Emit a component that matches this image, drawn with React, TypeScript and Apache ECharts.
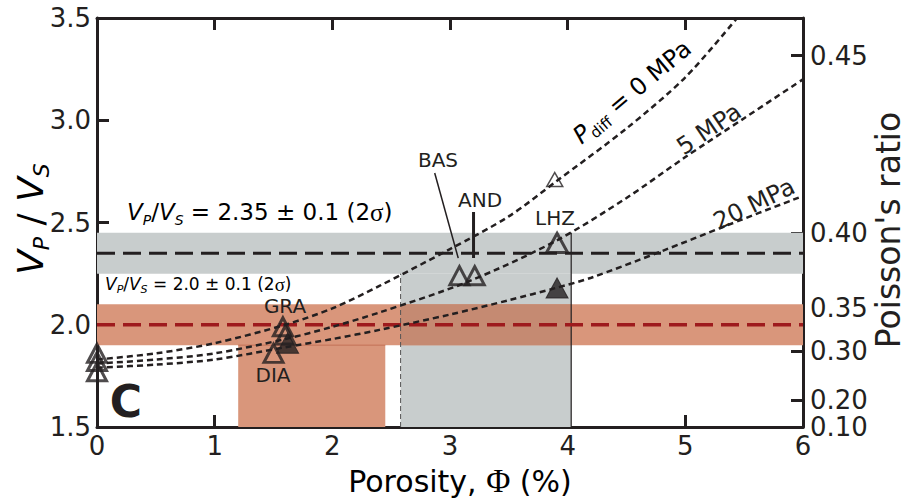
import React, { useEffect, useRef } from "react";
import * as echarts from "echarts";

// ---------- data ----------
const xTickValues = [0, 1, 2, 3, 4, 5, 6];
const vpvsTickValues = [1.5, 2.0, 2.5, 3.0, 3.5];
const poissonTickLabels = [0.1, 0.2, 0.3, 0.35, 0.4, 0.45];

// Pdiff = 0 MPa
const curve0x = [0, 0.5, 1.0, 1.6, 2.0, 2.4, 3.0, 3.5, 3.9, 4.5, 5.0, 5.44];
const curve0y = [1.83, 1.86, 1.91, 2.0, 2.08, 2.19, 2.37, 2.53, 2.7, 2.96, 3.21, 3.5];
// 5 MPa
const curve5x = [0, 0.5, 1.0, 1.6, 2.0, 2.4, 3.15, 3.9, 4.5, 5.0, 5.5, 6.0];
const curve5y = [1.81, 1.83, 1.86, 1.93, 1.99, 2.06, 2.21, 2.41, 2.62, 2.82, 3.01, 3.2];
// 20 MPa
const curve20x = [0, 0.5, 1.0, 1.6, 2.0, 2.4, 3.0, 3.5, 3.9, 4.2, 4.8, 5.35, 6.0];
const curve20y = [1.79, 1.805, 1.83, 1.89, 1.93, 1.975, 2.05, 2.12, 2.18, 2.23, 2.36, 2.485, 2.63];

const openTriangles = [
  [0, 1.86], [0, 1.82], [0, 1.77],
  [1.58, 1.99], [1.6, 1.95], [1.5, 1.86],
  [3.08, 2.24], [3.21, 2.24],
];
const lhzOpen = [[3.91, 2.4]];
const filledTriangles = [[1.62, 1.91], [3.91, 2.18]];
const dryTriangle = [[3.89, 2.71]];

const globalVpVs = 2.35;
const globalErr = 0.1;
const localVpVs = 2.0;
const localErr = 0.1;
const grayPorosity = [2.58, 4.03];
const orangePorosity = [1.2, 2.45];

const basLeader = [[2.87, 2.742], [3.07, 2.326]];
const andLeader = [[3.2, 2.551], [3.2, 2.326]];

// ---------- styles ----------
const FONT = "'DejaVu Sans', sans-serif";
const SERIF = "'Liberation Serif', serif";
const INK = "#231f20";
const GRAY = "#c8cdcd";
const ORANGE = "#d9967b";
const OVERLAP = "#c58a72";
const RED_LINE = "#9e1a1d";
const RED_TEXT = "#d44d2c";

const zip = (xs: number[], ys: number[]) => xs.map((x, i) => [x, ys[i]]);
const poissonToVpVs = (nu: number) => Math.sqrt((2 - 2 * nu) / (1 - 2 * nu));
const vpvsToPoisson = (r: number) => (r * r - 2) / (2 * (r * r - 1));
const rightTickValues = poissonTickLabels.map(poissonToVpVs);

function richStyles(F: number, color: string) {
  const f = Math.round(F * 0.62);
  const k = Math.round(1.026 * F - 0.846 * f);
  return {
    v: { fontFamily: FONT, fontStyle: "italic", fontSize: F, lineHeight: F, height: F, verticalAlign: "top", color },
    s: { fontFamily: FONT, fontStyle: "italic", fontSize: f, lineHeight: f, height: f, verticalAlign: "top", padding: [k, 0, 0, 0], color },
    u: { fontFamily: FONT, fontSize: f, lineHeight: f, height: f, verticalAlign: "top", padding: [k, 0, 0, 0], color },
    t: { fontFamily: FONT, fontSize: F, lineHeight: F, height: F, verticalAlign: "top", color },
    g: { fontFamily: SERIF, fontSize: Math.round(F * 1.1), lineHeight: F, height: F, verticalAlign: "top", color },
  };
}

function label(x: number, y: number, text: string, size = 20) {
  return {
    type: "text",
    x,
    y,
    z: 100,
    silent: true,
    style: { text, fontFamily: FONT, fontSize: size, lineHeight: size, fill: INK, align: "center", verticalAlign: "middle" },
  };
}

export default function App() {
  const ref = useRef<HTMLDivElement>(null);

  useEffect(() => {
    document.body.style.margin = "0";
    if (!ref.current) return;
    const chart = echarts.init(ref.current, null, { renderer: "svg" });

    const axisCommon = {
      type: "value",
      axisLine: { show: true, onZero: false, lineStyle: { color: INK, width: 3 } },
      axisTick: { show: true, inside: true, length: 12, lineStyle: { color: INK, width: 3 } },
      splitLine: { show: false },
    };

    const dashedCurve = (name: string, data: number[][]) => ({
      name,
      type: "line",
      data,
      smooth: 0.3,
      symbol: "none",
      silent: true,
      z: 5,
      lineStyle: { color: INK, width: 2.5, type: [6, 4] },
    });

    const straight = (data: number[][], color: string, width: number, type: any, z = 3) => ({
      type: "line",
      data,
      symbol: "none",
      silent: true,
      z,
      lineStyle: { color, width, type },
    });

    const option: any = {
      animation: false,
      grid: { left: 97, top: 18, right: 104, bottom: 73, containLabel: false },
      xAxis: [
        {
          ...axisCommon,
          min: 0,
          max: 6,
          interval: 1,
          position: "bottom",
          axisLabel: {
            show: true,
            margin: 7,
            fontSize: 26,
            lineHeight: 24,
            fontFamily: FONT,
            color: INK,
            formatter: (v: number) => (xTickValues.includes(v) ? String(v) : ""),
          },
        },
        { ...axisCommon, min: 0, max: 6, interval: 1, position: "top", axisLabel: { show: false } },
      ],
      yAxis: [
        {
          ...axisCommon,
          min: 1.5,
          max: 3.5,
          interval: 0.5,
          position: "left",
          axisLabel: {
            show: true,
            margin: 6,
            fontSize: 26,
            lineHeight: 24,
            fontFamily: FONT,
            color: INK,
            showMinLabel: true,
            showMaxLabel: true,
            formatter: (v: number) => (vpvsTickValues.some((t) => Math.abs(t - v) < 1e-6) ? v.toFixed(1) : ""),
          },
        },
        {
          ...axisCommon,
          min: 1.5,
          max: 3.5,
          position: "right",
          axisTick: { show: true, inside: true, length: 12, lineStyle: { color: INK, width: 3 }, customValues: rightTickValues },
          axisLabel: {
            show: true,
            margin: 7,
            fontSize: 26,
            lineHeight: 22,
            fontFamily: FONT,
            color: INK,
            customValues: rightTickValues,
            formatter: (v: number) => vpvsToPoisson(v).toFixed(2),
          },
        },
      ],
      series: [
        {
          type: "line",
          data: [],
          silent: true,
          z: 1,
          markArea: {
            silent: true,
            data: [
              [{ xAxis: 0, yAxis: globalVpVs - globalErr, itemStyle: { color: GRAY } }, { xAxis: 6, yAxis: globalVpVs + globalErr }],
              [{ xAxis: grayPorosity[0], yAxis: 1.5, itemStyle: { color: GRAY } }, { xAxis: grayPorosity[1], yAxis: globalVpVs - globalErr }],
              [{ xAxis: 0, yAxis: localVpVs - localErr, itemStyle: { color: ORANGE } }, { xAxis: 6, yAxis: localVpVs + localErr }],
              [{ xAxis: orangePorosity[0], yAxis: 1.5, itemStyle: { color: ORANGE } }, { xAxis: orangePorosity[1], yAxis: localVpVs - localErr }],
              [{ xAxis: grayPorosity[0], yAxis: localVpVs - localErr, itemStyle: { color: OVERLAP } }, { xAxis: grayPorosity[1], yAxis: localVpVs + localErr }],
            ],
          },
        },
        straight([[orangePorosity[0], localVpVs - localErr], [orangePorosity[1], localVpVs - localErr]], "#c06b4e", 1, "solid", 2),
        straight([[grayPorosity[0], 1.5], [grayPorosity[0], globalVpVs - globalErr]], "#555", 1, [5, 3], 2),
        straight([[grayPorosity[1], 1.5], [grayPorosity[1], globalVpVs + globalErr]], INK, 1.2, "solid", 2),
        straight([[0, globalVpVs], [6, globalVpVs]], INK, 3, [18, 8], 3),
        straight([[0, localVpVs], [6, localVpVs]], RED_LINE, 3.5, [18, 8], 3),
        dashedCurve("0 MPa", zip(curve0x, curve0y)),
        dashedCurve("5 MPa", zip(curve5x, curve5y)),
        dashedCurve("20 MPa", zip(curve20x, curve20y)),
        straight(basLeader, INK, 1.5, "solid", 6),
        straight(andLeader, INK, 3, "solid", 6),
        {
          type: "scatter",
          data: openTriangles,
          symbol: "triangle",
          symbolSize: [19, 18],
          clip: false,
          silent: true,
          z: 8,
          itemStyle: { color: "rgba(0,0,0,0)", borderColor: INK, borderWidth: 3 },
        },
        {
          type: "scatter",
          data: lhzOpen,
          symbol: "triangle",
          symbolSize: [21, 19],
          clip: false,
          silent: true,
          z: 8,
          itemStyle: { color: "rgba(0,0,0,0)", borderColor: INK, borderWidth: 3 },
        },
        {
          type: "scatter",
          data: filledTriangles,
          symbol: "triangle",
          symbolSize: [22, 20],
          clip: false,
          silent: true,
          z: 8,
          itemStyle: { color: INK, borderColor: INK, borderWidth: 1 },
        },
        {
          type: "scatter",
          data: dryTriangle,
          symbol: "triangle",
          symbolSize: [16, 14],
          clip: false,
          silent: true,
          z: 8,
          itemStyle: { color: "rgba(0,0,0,0)", borderColor: INK, borderWidth: 1.5 },
        },
      ],
      graphic: [
        {
          type: "text",
          x: 30,
          y: 219,
          z: 100,
          rotation: Math.PI / 2,
          silent: true,
          style: { text: "{v|V}{s|P}{t| / }{v|V}{s|S}", rich: richStyles(36, INK), align: "center", verticalAlign: "middle" },
        },
        {
          type: "text",
          x: 888,
          y: 230,
          z: 100,
          rotation: Math.PI / 2,
          silent: true,
          style: { text: "Poisson's ratio", fontFamily: FONT, fontSize: 33, fill: INK, align: "center", verticalAlign: "middle" },
        },
        {
          type: "text",
          x: 460,
          y: 481,
          z: 100,
          silent: true,
          style: { text: "{t|Porosity, }{g|Φ}{t| (%)}", rich: richStyles(30, INK), align: "center", verticalAlign: "middle" },
        },
        {
          type: "text",
          x: 127,
          y: 212,
          z: 100,
          silent: true,
          style: { text: "{v|V}{s|P}{t|/}{v|V}{s|S}{t| = 2.35 ± 0.1 (2}{g|σ}{t|)}", rich: richStyles(23, INK), align: "left", verticalAlign: "middle" },
        },
        {
          type: "text",
          x: 105,
          y: 284,
          z: 100,
          silent: true,
          style: { text: "{v|V}{s|P}{t|/}{v|V}{s|S}{t| = 2.0 ± 0.1 (2}{g|σ}{t|)}", rich: richStyles(17, RED_TEXT), align: "left", verticalAlign: "middle" },
        },
        {
          type: "text",
          x: 126,
          y: 401,
          z: 100,
          silent: true,
          style: { text: "C", fontFamily: FONT, fontSize: 44, fontWeight: "bold", fill: INK, align: "center", verticalAlign: "middle" },
        },
        label(285, 306, "GRA"),
        label(273, 375, "DIA"),
        label(438, 160, "BAS"),
        label(480, 200, "AND"),
        label(555, 218, "LHZ"),
        {
          type: "text",
          x: 632,
          y: 92,
          z: 100,
          rotation: (40 * Math.PI) / 180,
          silent: true,
          style: { text: "{v|P}{u|diff}{t| = 0 MPa}", rich: richStyles(24, INK), align: "center", verticalAlign: "middle" },
        },
        {
          type: "text",
          x: 709,
          y: 129,
          z: 100,
          rotation: (34 * Math.PI) / 180,
          silent: true,
          style: { text: "5 MPa", fontFamily: FONT, fontSize: 24, fill: INK, align: "center", verticalAlign: "middle" },
        },
        {
          type: "text",
          x: 754,
          y: 204,
          z: 100,
          rotation: (26 * Math.PI) / 180,
          silent: true,
          style: { text: "20 MPa", fontFamily: FONT, fontSize: 24, fill: INK, align: "center", verticalAlign: "middle" },
        },
      ],
    };

    chart.setOption(option);
    return () => chart.dispose();
  }, []);

  return <div ref={ref} style={{ width: 907, height: 500 }} />;
}
